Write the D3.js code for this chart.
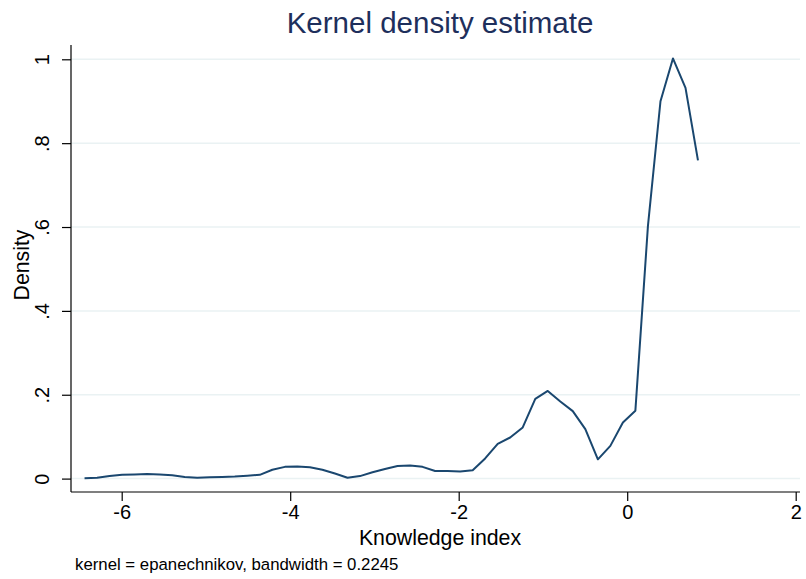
<!DOCTYPE html>
<html>
<head>
<meta charset="utf-8">
<script src="https://cdn.jsdelivr.net/npm/d3@7"></script>
<style>
  body { margin: 0; background: #fff; }
  text { font-family: "Liberation Sans", Arial, sans-serif; }
</style>
</head>
<body>
<svg id="chart" width="806" height="579"></svg>
<script>
// Evaluation points (Knowledge index)
const xValues = [-6.441,-6.292,-6.144,-5.995,-5.847,-5.698,-5.549,-5.401,-5.252,-5.104,
  -4.955,-4.806,-4.658,-4.509,-4.361,-4.212,-4.063,-3.915,-3.766,-3.618,
  -3.469,-3.320,-3.172,-3.023,-2.875,-2.726,-2.577,-2.429,-2.280,-2.132,
  -1.983,-1.834,-1.686,-1.537,-1.389,-1.240,-1.091,-0.943,-0.794,-0.646,
  -0.497,-0.348,-0.200,-0.051,0.097,0.246,0.395,0.543,0.692,0.840];
// Estimated density
const densityValues = [0.001,0.002,0.006,0.009,0.010,0.011,0.010,0.008,0.004,0.002,
  0.003,0.004,0.005,0.007,0.009,0.021,0.028,0.029,0.027,0.021,
  0.012,0.002,0.006,0.015,0.023,0.030,0.031,0.028,0.018,0.018,
  0.017,0.020,0.048,0.083,0.098,0.122,0.190,0.209,0.184,0.161,
  0.118,0.046,0.078,0.134,0.162,0.602,0.900,1.002,0.932,0.759];
const xTicks = [-6, -4, -2, 0, 2];
const yTicks = [0, 0.2, 0.4, 0.6, 0.8, 1];
const yTickLabels = ["0", ".2", ".4", ".6", ".8", "1"];

const titleText = "Kernel density estimate";
const xTitle = "Knowledge index";
const yTitle = "Density";
const noteText = "kernel = epanechnikov, bandwidth = 0.2245";

const svg = d3.select("#chart");
const plotLeft = 71, plotRight = 800, plotTop = 45, plotBottom = 492;

const x = d3.scaleLinear().domain([-6, 2]).range([121.7, 795.7]);
const y = d3.scaleLinear().domain([0, 1]).range([478.6, 59.3]);

// gridlines
svg.append("g").selectAll("line").data(yTicks).join("line")
  .attr("x1", plotLeft).attr("x2", plotRight)
  .attr("y1", d => y(d)).attr("y2", d => y(d))
  .attr("stroke", "#eaf2f3").attr("stroke-width", 1.5);

// y axis
const yAxis = d3.axisLeft(y).tickValues(yTicks)
  .tickFormat((d, i) => yTickLabels[i]).tickSize(9).tickPadding(4);
const gy = svg.append("g").attr("transform", `translate(${plotLeft},0)`).call(yAxis);
gy.select(".domain").remove();
gy.append("line").attr("x1", 0).attr("x2", 0).attr("y1", plotTop).attr("y2", plotBottom)
  .attr("stroke", "#000").attr("stroke-width", 1.2);
gy.selectAll(".tick line").attr("stroke", "#000").attr("stroke-width", 1.2);
gy.selectAll(".tick text")
  .attr("font-size", 20).attr("fill", "#000")
  .attr("text-anchor", "middle")
  .attr("x", 0).attr("dy", 0)
  .attr("transform", "translate(-22,0) rotate(-90)")
  .attr("y", 0);

// x axis
const xAxis = d3.axisBottom(x).tickValues(xTicks).tickFormat(d3.format("d")).tickSize(9).tickPadding(4);
const gx = svg.append("g").attr("transform", `translate(0,${plotBottom})`).call(xAxis);
gx.select(".domain").remove();
gx.append("line").attr("x1", plotLeft).attr("x2", plotRight).attr("y1", 0).attr("y2", 0)
  .attr("stroke", "#000").attr("stroke-width", 1.2);
gx.selectAll(".tick line").attr("stroke", "#000").attr("stroke-width", 1.2);
gx.selectAll(".tick text").attr("font-size", 20).attr("fill", "#000")
  .text(d => d < 0 ? "-" + Math.abs(d) : d);

// density line
const data = xValues.map((v, i) => ({ x: v, y: densityValues[i] }));
svg.append("path").datum(data)
  .attr("fill", "none").attr("stroke", "#1a476f").attr("stroke-width", 2)
  .attr("stroke-linejoin", "round")
  .attr("d", d3.line().x(d => x(d.x)).y(d => y(d.y)));

// titles
svg.append("text").attr("x", 440).attr("y", 33).attr("text-anchor", "middle")
  .attr("font-size", 29.5).attr("fill", "#1e2f5c").text(titleText);
svg.append("text").attr("x", 440).attr("y", 545).attr("text-anchor", "middle")
  .attr("font-size", 21.3).attr("fill", "#000").text(xTitle);
svg.append("text").attr("transform", `translate(29,265) rotate(-90)`)
  .attr("text-anchor", "middle").attr("font-size", 21.3).attr("fill", "#000").text(yTitle);
svg.append("text").attr("x", 75).attr("y", 570).attr("font-size", 16.8).attr("fill", "#000").text(noteText);
</script>
</body>
</html>
